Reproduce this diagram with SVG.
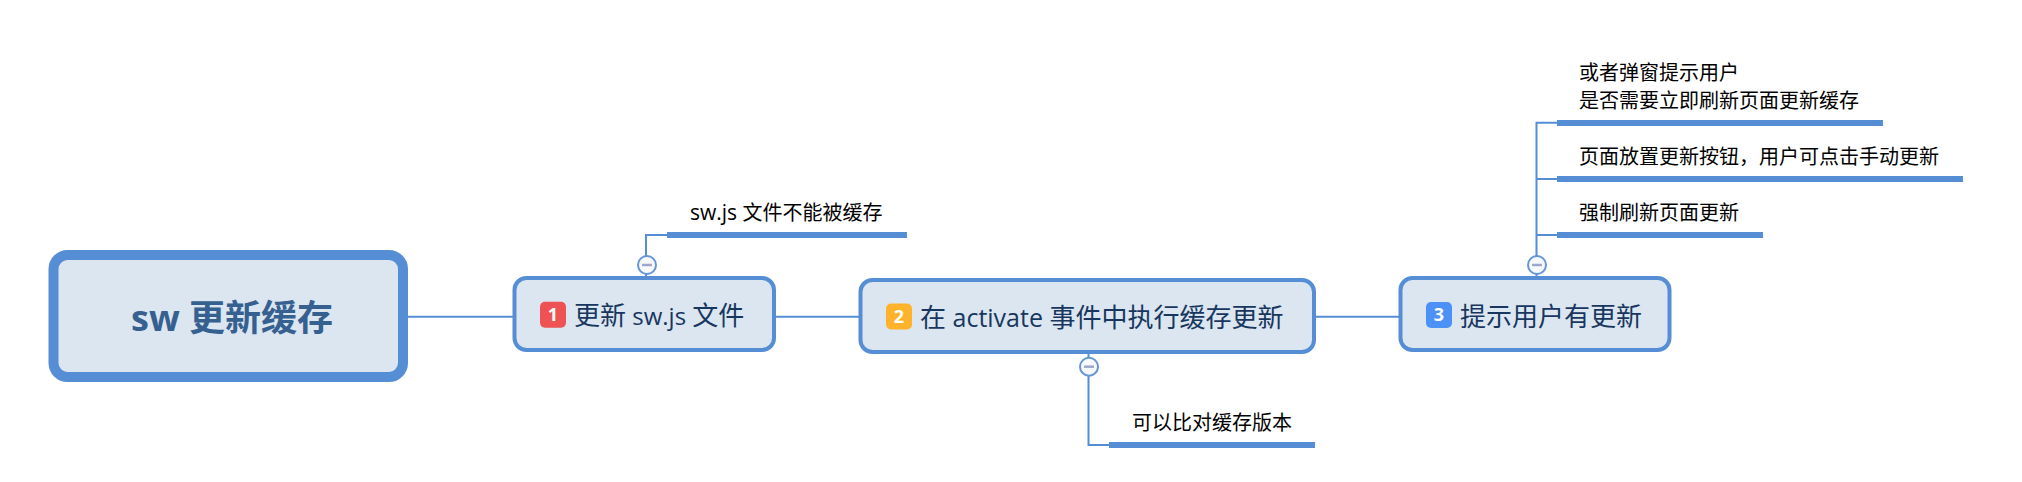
<svg xmlns="http://www.w3.org/2000/svg" width="2022" height="482" viewBox="0 0 2022 482">
<style>
text{font-family:"Open Sans","Noto Sans CJK SC",sans-serif}
.box{fill:#dce6f1;stroke:#558ed5;stroke-width:4}
.lbl{font-size:26px;fill:#17375e}
.sub{font-size:20px;fill:#000}
.bar{fill:#558ed5}
.ln{fill:none;stroke:#558ed5;stroke-width:2}
.tog{fill:#f7f9fc;stroke:#6596d8;stroke-width:2}
.min{fill:none;stroke:#9fa8c9;stroke-width:2.5}
.num{font-size:18px;font-weight:700;fill:#fff;text-anchor:middle}
</style>
<rect width="2022" height="482" fill="#fff"/>
<g id="connectors">
<path class="ln" d="M408 316.7H513M775 316.7H859M1315 316.7H1399"/>
<path class="ln" d="M646 276V235H667"/>
<path class="ln" d="M1088.500 353V445H1109"/>
<path class="ln" d="M1536.500 276V122.700H1557M1536.500 179H1557M1536.500 235H1557"/>
</g>
<g id="root">
<rect x="53.500" y="255" width="349.500" height="122" rx="14" fill="#dce6f1" stroke="#558ed5" stroke-width="10"/>
<text x="131" y="331" font-size="36" font-weight="700" fill="#35608f">sw 更新缓存</text>
</g>
<g id="node1">
<rect class="box" x="514.500" y="278" width="259.500" height="72" rx="12"/>
<rect x="540" y="301.700" width="26" height="26" rx="5" fill="#ee5253"/>
<text class="num" x="553" y="321">1</text>
<text class="lbl" x="574" y="325">更新<tspan font-size="24"> sw.js </tspan>文件</text>
</g>
<g id="node2">
<rect class="box" x="860.500" y="280" width="453.500" height="72" rx="12"/>
<rect x="886" y="303.500" width="26" height="26" rx="5" fill="#feb32b"/>
<text class="num" x="899" y="323">2</text>
<text class="lbl" x="920" y="327">在<tspan font-size="25"> activate </tspan>事件中执行缓存更新</text>
</g>
<g id="node3">
<rect class="box" x="1400.500" y="278" width="269" height="72" rx="12"/>
<rect x="1426" y="302" width="26" height="26" rx="5" fill="#4c91f7"/>
<text class="num" x="1439" y="321">3</text>
<text class="lbl" x="1460" y="326">提示用户有更新</text>
</g>
<g id="child1">
<rect class="bar" x="667" y="232" width="240" height="6"/>
<text class="sub" x="690" y="220"><tspan font-size="21">sw.js </tspan>文件不能被缓存</text>
</g>
<g id="child2">
<rect class="bar" x="1109" y="442" width="206" height="6"/>
<text class="sub" x="1132" y="430">可以比对缓存版本</text>
</g>
<g id="child3a">
<rect class="bar" x="1557" y="120" width="326" height="6"/>
<text class="sub" x="1579" y="80">或者弹窗提示用户</text>
<text class="sub" x="1579" y="108">是否需要立即刷新页面更新缓存</text>
</g>
<g id="child3b">
<rect class="bar" x="1557" y="176" width="406" height="6"/>
<text class="sub" x="1579" y="164">页面放置更新按钮，用户可点击手动更新</text>
</g>
<g id="child3c">
<rect class="bar" x="1557" y="232" width="206" height="6"/>
<text class="sub" x="1579" y="220">强制刷新页面更新</text>
</g>
<g id="toggle1"><circle class="tog" cx="647" cy="265" r="9"/><path class="min" d="M642 265H652"/></g>
<g id="toggle2"><circle class="tog" cx="1089" cy="366.700" r="9"/><path class="min" d="M1084 366.700H1094"/></g>
<g id="toggle3"><circle class="tog" cx="1537" cy="265" r="9"/><path class="min" d="M1532 265H1542"/></g>
</svg>
